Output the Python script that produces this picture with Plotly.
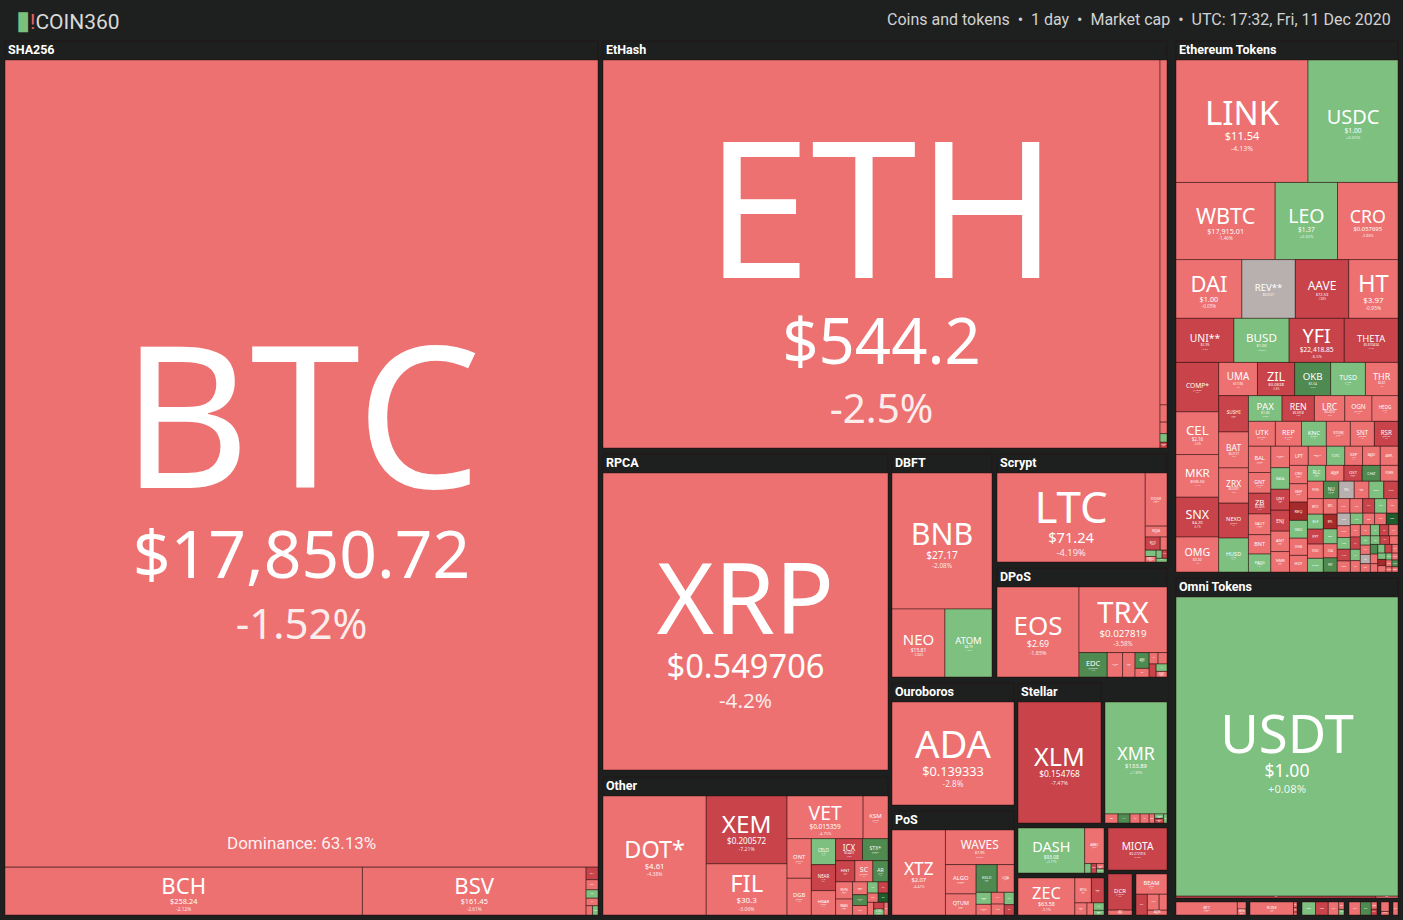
import plotly.graph_objects as go

W, H = 1403, 920
BG = "#1e2020"
TILE_FONT = "Noto Sans"
HEAD_FONT = "Roboto"
NBSP = "\u00a0"

SHA256 = [
    ("BTC", 478.6, "$17,850.72", -1.52),
    ("BCH", 17.1, "$258.24", -2.12),
    ("BSV", 10.7, "$161.45", -2.61),
    ("BCHA", 0.15, "$17.12", -8.4),
    ("BTCV", 0.12, "$9.84", -3.05),
    ("NMC", 0.10, "$0.62", 1.2),
    ("PPC", 0.09, "$0.41", -1.1),
    ("XJO", 0.06, "$0.05", -2.2),
    ("EMC", 0.05, "$0.02", 0.9),
]
ETHASH = [
    ("ETH", 216.1, "$544.2", -2.5),
    ("ETC", 2.4, "$5.67", -3.1),
    ("ETP", 0.12, "$0.14", -2.0),
    ("UBQ", 0.08, "$0.17", -4.0),
    ("EXP", 0.06, "$0.06", 1.0),
    ("CLO", 0.04, "$0.003", -6.0),
]
ETH_TOKENS = [
    ("LINK", 15.7, "$11.54", -4.13), ("USDC", 10.7, "$1.00", 0.05),
    ("WBTC", 7.43, "$17,915.01", -1.46), ("LEO", 4.67, "$1.37", 0.32),
    ("CRO", 4.53, "$0.057695", -3.86), ("DAI", 3.76, "$1.00", -0.05),
    ("REV**", 3.05, "$0.0121", None), ("AAVE", 3.05, "$72.53", -7.88),
    ("HT", 2.81, "$3.97", -0.95), ("UNI**", 2.48, "$2.95", -6.2),
    ("BUSD", 2.36, "$1.00", 0.02), ("YFI", 2.36, "$22,418.85", -6.5),
    ("THETA", 2.30, "$0.670434", -5.46), ("COMP*", 2.05, "$148.37", -5.9),
    ("CEL", 1.77, "$2.16", -3.2), ("MKR", 1.77, "$505.50", -4.1),
    ("SNX", 1.65, "$4.20", -6.1), ("OMG", 1.45, "$3.32", -4.0),
    ("UMA", 1.25, "$17.66", -3.0), ("ZIL", 1.20, "$0.0638", -5.6),
    ("OKB", 1.16, "$5.54", 6.2), ("TUSD", 1.12, "$1.00", 0.1),
    ("THR", 1.05, "$2.61", -2.0), ("SUSHI", 1.05, "$2.39", -8.2),
    ("BAT", 1.04, "$0.2117", -3.5), ("ZRX", 1.02, "$0.3537", -3.9),
    ("NEXO", 1.01, "$0.6842", -5.8), ("HUSD", 0.98, "$1.00", 0.1),
    ("PAX", 0.84, "$1.00", 0.05), ("REN", 0.81, "$0.3318", -6.8),
    ("LRC", 0.76, "$0.2012", -2.9), ("OGN", 0.68, "$0.1652", -3.3),
    ("HEDG", 0.65, "$1.68", -1.2), ("UTK", 0.65, "$0.1581", -2.0),
    ("REP", 0.63, "$14.97", -3.4), ("KNC", 0.60, "$0.9524", 1.9),
    ("STORJ", 0.58, "$0.4436", -2.1), ("SNT", 0.58, "$0.0298", -3.0),
    ("RSR", 0.57, "$0.0129", -7.6), ("BAL", 0.57, "$16.32", -4.2),
    ("GNT", 0.45, "$0.1489", -3.7), ("ZB", 0.45, "$0.2855", -6.1),
    ("XAUT", 0.45, "$1,836.04", -1.5), ("PAXG", 0.39, "$1,838.20", 0.6),
    ("MATIC", 0.39, "$0.0187", -2.4), ("QNT", 0.38, "$9.83", -6.3),
    ("ANT", 0.37, "$3.21", -2.5), ("NMR", 0.37, "$24.91", -3.8),
    ("OCEAN", 0.34, "$0.3112", -2.7), ("SXP", 0.33, "$1.22", -3.1),
    ("BAND", 0.33, "$6.04", -4.4), ("CRV", 0.32, "$0.5741", -2.2),
    ("KEEP", 0.32, "$0.2203", -3.6), ("RLC", 0.28, "$0.8121", 2.3),
    ("ANKR", 0.28, "$0.0049", -1.9), ("OXT", 0.28, "$0.2571", -6.7),
    ("NU", 0.26, "$0.1795", 7.1), ("POLY", 0.25, "$0.0335", -2.8),
]
# the small ERC-20 mosaic, too small to read a price
ETH_DUST = [
    ("BNT", 0.42, -2.1), ("MANA", 0.39, 3.4), ("ENJ", 0.38, -6.8), ("LPT", 0.35, -1.7), ("CVC", 0.34, 2.2),
    ("AMPL", 0.33, -3.9), ("REQ", 0.32, -11.2), ("GNO", 0.31, 1.4), ("CHSB", 0.30, -2.6), ("HOT", 0.29, -4.8),
    ("CHZ", 0.28, 7.9), ("POWR", 0.27, -1.2), ("FUN", 0.27, -3.3), ("TEL", 0.26, None), ("DENT", 0.25, 2.8),
    ("NPXS", 0.24, -5.7), ("WTC", 0.24, -2.4), ("ELF", 0.23, 0.9), ("PPT", 0.23, -7.3), ("DGD", 0.22, -1.9),
    ("ORBS", 0.21, 4.1), ("MTL", 0.21, -3.1), ("RPL", 0.20, -12.5), ("BZRX", 0.20, 1.8), ("DIA", 0.19, -2.7),
    ("FET", 0.19, 6.4), ("SAND", 0.18, -4.2), ("AXS", 0.18, -1.4), ("ALPHA", 0.17, -8.9), ("CREAM", 0.17, 2.5),
    ("BADGER", 0.16, -3.6), ("HEGIC", 0.16, None), ("PICKLE", 0.15, -2.2), ("KP3R", 0.15, 1.1), ("YAM", 0.15, -6.1),
    ("CORE", 0.14, -1.6), ("RARI", 0.14, 3.7), ("SRM", 0.13, -4.4), ("AKRO", 0.13, -2.9), ("DODO", 0.13, 13.2),
    ("FRONT", 0.12, -1.3), ("INJ", 0.12, -5.2), ("LIT", 0.11, 0.7), ("MIR", 0.11, -3.8), ("PERP", 0.11, -2.0),
    ("RAMP", 0.10, 2.9), ("ROOK", 0.10, -9.6), ("TRU", 0.10, -1.1), ("UBT", 0.09, 4.6), ("WNXM", 0.09, -3.4),
    ("XOR", 0.09, None), ("GUSD", 0.08, -2.5), ("TRB", 0.08, 1.6), ("SWAP", 0.08, -7.7), ("COVER", 0.07, -4.1),
    ("SFI", 0.07, 8.3), ("DPI", 0.07, -1.8), ("ESD", 0.06, -3.0), ("BAC", 0.06, 2.1), ("MTA", 0.06, -6.4),
    ("YFII", 0.05, -2.3), ("SWRV", 0.05, 0.5), ("CVP", 0.05, -14.1), ("DHT", 0.05, -1.5), ("STAKE", 0.04, 3.1),
    ("HEZ", 0.04, -4.6), ("MLN", 0.04, -2.8), ("PNK", 0.04, 5.5), ("NXM", 0.03, -3.7), ("LOOM", 0.03, -1.0),
]
OMNI = [("USDT", 66.2, "$1.00", 0.08), ("MAID", 0.36, "$0.1422", -5.5), ("OMNI", 0.04, "$2.91", -2.0)]
RPCA = [("XRP", 84.6, "$0.549706", -4.2)]
DBFT = [("BNB", 13.6, "$27.17", -2.08), ("NEO", 3.6, "$15.81", -3.84), ("ATOM", 3.2, "$4.79", 1.66)]
SCRYPT = [
    ("LTC", 13.35, "$71.24", -4.19), ("DOGE", 1.17, "$0.003165", -3.2),
    ("MONA", 0.24, "$0.98", -2.1), ("RDD", 0.20, "$0.0009", -7.2),
    ("FTC", 0.09, "$0.01", -3.0), ("GAME", 0.07, "$0.02", 2.0),
    ("EMC2", 0.06, "$0.03", -1.0), ("NLG", 0.05, "$0.02", 3.0),
    ("CANN", 0.04, "$0.01", -9.0), ("VIA", 0.04, "$0.15", 1.0),
]
DPOS = [
    ("EOS", 7.29, "$2.69", -1.85), ("TRX", 5.70, "$0.027819", -3.58),
    ("EDC", 0.68, "$0.0279", 7.5), ("NANO", 0.37, "$2.59", -3.0),
    ("LSK", 0.30, "$1.63", -2.4), ("ARK", 0.22, "$0.36", 6.0),
    ("BTS", 0.12, "$0.02", -2.0), ("ARDR", 0.10, "$0.06", -1.0),
    ("STEEM", 0.10, "$0.18", -3.0), ("WAX", 0.09, "$0.04", -6.0),
    ("HIVE", 0.08, "$0.11", 2.0), ("GXC", 0.06, "$0.35", -2.0),
]
OUROBOROS = [("ADA", 12.57, "$0.139333", -2.8)]
STELLAR = [("XLM", 10.04, "$0.154768", -7.47)]
CRYPTONIGHT = [
    ("XMR", 6.88, "$133.89", 1.39), ("BCN", 0.117, "$0.0002", -2.0),
    ("XHV", 0.108, "$0.71", 8.0), ("AEON", 0.09, "$0.41", -3.0),
    ("TRTL", 0.081, "$0.0001", -1.0), ("ETN", 0.05, "$0.004", -2.0),
    ("MSR", 0.04, "$0.02", 2.0), ("LOKI", 0.04, "$0.55", -6.0),
    ("XWP", 0.03, "$0.02", 1.0),
]
OTHER = [
    ("DOT*", 12.26, "$4.61", -4.38), ("XEM", 5.47, "$0.200572", -7.21),
    ("FIL", 4.13, "$30.3", -3.06), ("VET", 3.24, "$0.015359", -4.75),
    ("KSM", 1.06, "$45.29", -2.41), ("ONT", 0.96, "$0.5718", -3.52),
    ("DGB", 0.89, "$0.0234", -2.93), ("CELO", 0.63, "$1.83", 2.14),
    ("NEAR", 0.63, "$1.13", -6.62), ("HBAR", 0.59, "$0.0348", -3.1),
    ("ICX", 0.59, "$0.4472", -6.05), ("STX*", 0.56, "$0.3012", 9.1),
    ("HNT", 0.41, "$1.04", -5.5), ("SC", 0.38, "$0.0031", -3.0),
    ("AR", 0.32, "$2.73", 7.2), ("RVN", 0.29, "$0.0152", -2.5),
    ("WAN", 0.27, "$0.2488", -3.4), ("IOTX", 0.19, "$0.0068", -2.2),
    ("KAVA", 0.16, "$1.48", 6.1), ("CKB", 0.14, "$0.0044", -4.0),
    ("XVS", 0.12, "$8.96", 3.0), ("STMX", 0.11, "$0.0033", -7.1),
    ("FTM", 0.10, "$0.0176", -3.2), ("ONE", 0.09, "$0.0045", 12.4),
    ("KMD", 0.08, "$0.4831", -2.0), ("AKT", 0.07, "$1.71", -9.3),
    ("CTXC", 0.06, "$0.0845", 1.2), ("ARRR", 0.05, "$0.2214", -1.4),
]
POS = [
    ("XTZ", 4.5, "$2.07", -4.42), ("WAVES", 2.35, "$7.95", -3.05),
    ("ALGO", 0.89, "$0.3295", -2.7), ("QTUM", 0.64, "$2.31", -3.2),
    ("EGLD", 0.58, "$29.64", 6.3), ("LUNA", 0.46, "$0.4705", -2.0),
    ("NEBL", 0.18, "$0.52", 2.0), ("NULS", 0.16, "$0.17", -1.0),
    ("PIVX", 0.15, "$0.25", -3.0), ("PART", 0.14, "$1.26", -2.5),
    ("TOMO", 0.12, "$0.53", 3.0), ("BLK", 0.10, "$0.04", -6.0),
]
X11 = [
    ("DASH", 2.97, "$93.08", 2.71), ("ABBC", 0.68, "$0.1452", -2.1),
    ("ION", 0.06, "$0.03", 3.0), ("CRW", 0.05, "$0.05", -7.0),
    ("XMY", 0.04, "$0.001", -2.0), ("SMART", 0.03, "$0.001", 1.0),
]
EQUIHASH = [
    ("ZEC", 2.15, "$63.58", -3.1), ("BTG", 0.42, "$5.68", -2.5),
    ("ZEN", 0.32, "$12.01", -5.4), ("ZEL", 0.15, "$0.04", -1.0),
    ("KMD", 0.08, "$0.48", -3.0), ("BTCZ", 0.08, "$0.0003", 1.5),
    ("ZCL", 0.05, "$0.05", 2.0),
]
IOTA = [("MIOTA", 2.48, "$0.272916", -6.75)]
BLAKE256 = [("DCR", 0.89, "$125.37", -6.2), ("LBC", 0.12, "$0.03", -2.0)]
MISC = [
    ("BEAM", 0.40, "$0.29", -2.0), ("GRIN", 0.15, "$0.28", -7.0),
    ("HNS", 0.12, "$0.07", -3.0), ("ERG", 0.08, "$1.01", -1.0),
    ("AION", 0.06, "$0.07", -4.0),
]
TRC20 = [("BTT", 0.78, "$0.000317", -2.5), ("JST", 0.06, "$0.02", -3.0), ("WIN", 0.05, "$0.0001", -2.2)]
BEP2 = [("RUNE", 0.57, "$1.28", -3.5), ("TWT", 0.02, "$0.05", -1.0), ("AVA", 0.015, "$0.52", -2.0),
        ("SWINGBY", 0.01, "$0.30", -4.0)]
WAVES_TOKENS = [("USDN", 0.18, "$1.00", 1.1), ("NSBT", 0.17, "$4.10", -6.8), ("WEST", 0.14, "$0.19", -4.0),
                ("SIGN", 0.04, "$0.01", -2.0), ("WCT", 0.03, "$0.02", 2.0)]
NEP5 = [("FLM", 0.18, "$0.23", -3.0), ("SWTH", 0.17, "$0.02", 6.5), ("NOS", 0.05, "$0.01", -3.0),
        ("TKY", 0.04, "$0.001", -6.0)]
ONTOLOGY = [("ONG", 0.08, "$0.14", -2.0), ("GAS", 0.03, "$1.81", -3.0)]
VRC = [("QASH", 0.04, "$0.03", -2.0)]

# group -> (rows, header shown)
GROUPS = [
    ("SHA256", SHA256, True), ("EtHash", ETHASH, True),
    ("Ethereum Tokens", ETH_TOKENS + [(n, v, "", c) for n, v, c in ETH_DUST], True),
    ("Omni Tokens", OMNI, True), ("RPCA", RPCA, True), ("DBFT", DBFT, True),
    ("Scrypt", SCRYPT, True), ("DPoS", DPOS, True), ("Ouroboros", OUROBOROS, True),
    ("Stellar", STELLAR, True), ("CryptoNight", CRYPTONIGHT, False), ("Other", OTHER, True),
    ("PoS", POS, True), ("X11", X11, False), ("Equihash", EQUIHASH, False),
    ("IOTA", IOTA, False), ("Blake256", BLAKE256, False), ("Misc", MISC, False),
    ("TRC20 Tokens", TRC20, False), ("BEP2 Tokens", BEP2, False),
    ("Waves Tokens", WAVES_TOKENS, False), ("NEP5 Tokens", NEP5, False),
    ("Ontology Tokens", ONTOLOGY, False), ("VeChain Tokens", VRC, False),
]

# group panels in page pixels: x0, x1, y0 (incl. header band), y1
BOXES = {
    "SHA256": (5, 598, 41, 915), "EtHash": (603, 1167, 41, 448),
    "Ethereum Tokens": (1176, 1398, 41, 572), "Omni Tokens": (1176, 1398, 578, 898),
    "RPCA": (603, 888, 454, 770), "DBFT": (892, 992, 454, 677),
    "Scrypt": (997, 1167, 454, 562), "DPoS": (997, 1167, 568, 677),
    "Ouroboros": (892, 1014, 683, 805), "Stellar": (1018, 1101, 683, 823),
    "CryptoNight": (1105, 1167, 702, 823), "Other": (603, 888, 777, 915),
    "PoS": (892, 1014, 811, 915), "X11": (1018, 1104, 828, 873),
    "Equihash": (1018, 1104, 878, 915), "IOTA": (1108, 1167, 828, 870),
    "Blake256": (1108, 1132, 874, 915), "Misc": (1136, 1167, 874, 915),
    "TRC20 Tokens": (1176, 1246, 902, 915), "BEP2 Tokens": (1250, 1297, 902, 915),
    "Waves Tokens": (1302, 1344, 902, 915), "NEP5 Tokens": (1349, 1377, 902, 915),
    "Ontology Tokens": (1381, 1389, 902, 915), "VeChain Tokens": (1393, 1398, 902, 915),
}
HEADER_BAND = 19

BASE_PX = 69  # sets the line spacing; every tile shrinks its text block to fit
LABEL_PX, PRICE_PX, CHANGE_PX = 198, 66, 42


def tone(change):
    if change is None:
        return "#b8b0ae"
    if change <= -10:
        return "#a52a2a"
    if change <= -5:
        return "#c8434a"
    if change < 0:
        return "#ed7171"
    if change < 5:
        return "#7dc07f"
    if change < 10:
        return "#4f8a51"
    return "#1f5c2c"


def tile_text(coin, price, change):
    pad = NBSP * max(1, round(len(coin) * 0.7))
    lines = [f"<span style='font-size:{LABEL_PX}px'>{pad}{coin}{pad}</span>"]
    if price:
        lines.append(f"<span style='font-size:{PRICE_PX}px'>{price}</span>")
        if change is not None:
            # <sup> lifts the change line up towards the price
            lines.append(
                f"<sup><span style='font-size:{CHANGE_PX}px;color:rgba(255,255,255,0.88)'>"
                f"{change:+g}%</span></sup>"
            )
    return "<br>".join(lines)


def group_trace(name, rows, header):
    x0, x1, y0, y1 = BOXES[name]
    n = len(rows)
    return go.Treemap(
        ids=[name] + [f"{name}/{r[0]}" for r in rows],
        labels=[name] + [r[0] for r in rows],
        parents=[""] + [name] * n,
        values=[0] + [r[1] for r in rows],
        text=[NBSP] + [tile_text(r[0], r[2], r[3]) for r in rows],
        texttemplate="%{text}",
        textposition="middle center",
        # the root's own header text is drawn in the background colour; titles are annotations
        textfont=dict(size=BASE_PX, color=[BG] + ["#ffffff"] * n, family=TILE_FONT),
        marker=dict(
            colors=[BG] + [tone(r[3]) for r in rows],
            line=dict(width=1, color="rgba(40,14,14,0.45)"),
            pad=dict(t=HEADER_BAND if header else 0, l=0, r=0, b=0),
            depthfade=False,
        ),
        tiling=dict(packing="squarify", squarifyratio=1, pad=0),
        pathbar=dict(visible=False),
        sort=True,
        hoverinfo="skip",
        domain=dict(x=[x0 / W, x1 / W], y=[1 - y1 / H, 1 - y0 / H]),
    )


fig = go.Figure([group_trace(name, rows, header) for name, rows, header in GROUPS])

# group titles sit in the dark band above each panel, flush left
for name, rows, header in GROUPS:
    if header:
        x0, x1, y0, y1 = BOXES[name]
        fig.add_annotation(
            x=(x0 + 1) / W, y=1 - (y0 + HEADER_BAND / 2 - 1) / H, xref="paper", yref="paper",
            xanchor="left", yanchor="middle", showarrow=False, text=f"<b>{name}</b>",
            font=dict(family=HEAD_FONT, size=12.5, color="#ffffff"),
        )

fig.add_annotation(
    x=14 / W, y=1 - 20 / H, xref="paper", yref="paper", xanchor="left", yanchor="middle", showarrow=False,
    text="<span style='color:#7cc07e;font-size:26px'>▮</span><span style='color:#e8625f'>!</span>COIN360",
    font=dict(family=HEAD_FONT, size=21, color="#d9d9d9"),
)
fig.add_annotation(
    x=1393 / W, y=1 - 20 / H, xref="paper", yref="paper", xanchor="right", yanchor="middle", showarrow=False,
    text="Coins and tokens  •  1 day  •  Market cap  •  UTC: 17:32, Fri, 11 Dec 2020",
    font=dict(family=HEAD_FONT, size=16, color="#d2d2d2"),
)
fig.add_annotation(
    x=301 / W, y=1 - 843 / H, xref="paper", yref="paper", xanchor="center", yanchor="middle", showarrow=False,
    text="Dominance: 63.13%", font=dict(family=HEAD_FONT, size=17, color="rgba(255,255,255,0.92)"),
)

fig.update_layout(
    width=W, height=H, margin=dict(t=0, l=0, r=0, b=0),
    paper_bgcolor=BG, plot_bgcolor=BG, showlegend=False,
)

fig.write_html(
    "out.html",
    config={"displayModeBar": False},
    post_script="document.body.style.margin='0';document.body.style.background='#1e2020';",
)
